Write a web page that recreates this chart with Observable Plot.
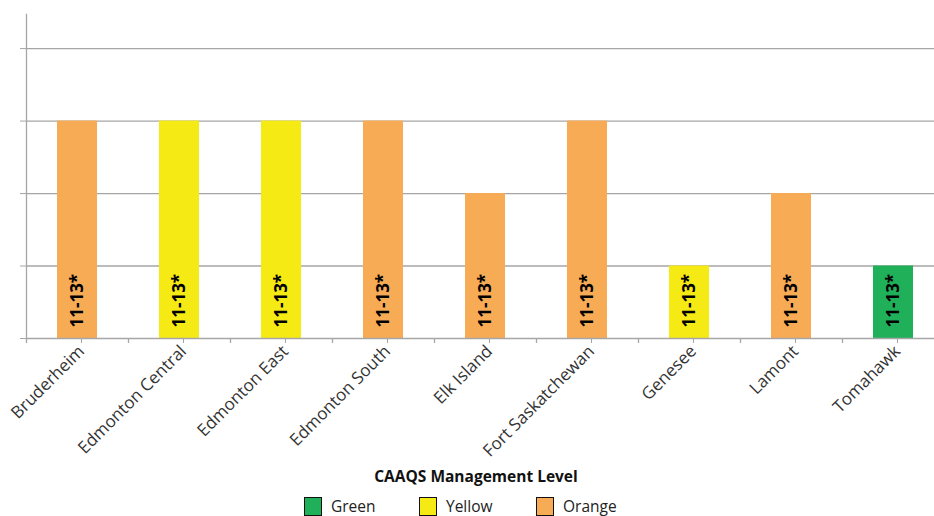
<!DOCTYPE html>
<html>
<head>
<meta charset="utf-8">
<script src="https://cdn.jsdelivr.net/npm/d3@7"></script>
<script src="https://cdn.jsdelivr.net/npm/@observablehq/plot@0.6"></script>
<style>
  html, body { margin: 0; padding: 0; background: #fff; }
  body { width: 934px; height: 516px; overflow: hidden; font-family: "Open Sans", sans-serif; position: relative; }
  #legend-title { position: absolute; left: 0; width: 952px; top: 466px; text-align: center; font-weight: bold; font-size: 15.5px; line-height: 20px; color: #111; }
  .item { position: absolute; top: 497px; height: 18px; display: flex; align-items: center; font-size: 15.5px; line-height: 18px; color: #222; }
  .item span { display: block; height: 18px; line-height: 18px; }
  .sw { width: 16px; height: 17px; border: 1.5px solid #111; margin-right: 9px; box-sizing: content-box; }
</style>
</head>
<body>
<div id="chart"></div>
<div id="legend-title">CAAQS Management Level</div>
<div id="legend"></div>
<script>
const stations = ["Bruderheim", "Edmonton Central", "Edmonton East", "Edmonton South", "Elk Island", "Fort Saskatchewan", "Genesee", "Lamont", "Tomahawk"];
const values = [3, 3, 3, 3, 2, 3, 1, 2, 1];
const levels = ["Orange", "Yellow", "Yellow", "Orange", "Orange", "Orange", "Yellow", "Orange", "Green"];
const barLabels = ["11-13*", "11-13*", "11-13*", "11-13*", "11-13*", "11-13*", "11-13*", "11-13*", "11-13*"];
const legendLevels = ["Green", "Yellow", "Orange"];
const levelColors = ["#21B05A", "#F6EA14", "#F7AB55"];
const gridValues = [1, 2, 3, 4];

const data = stations.map((s, i) => ({station: s, value: values[i], level: levels[i], label: barLabels[i]}));

const gray = "#a6a6a6";
const chart = Plot.plot({
  width: 934,
  height: 460,
  marginLeft: 26,
  marginRight: 0,
  marginTop: 14,
  marginBottom: 122,
  style: {fontFamily: "'Open Sans', sans-serif", background: "#fff", overflow: "hidden"},
  x: {domain: stations, range: [26, 944], padding: 0},
  y: {domain: [0, 4.47]},
  color: {type: "ordinal", domain: legendLevels, range: levelColors},
  marks: [
    Plot.ruleY(gridValues, {stroke: gray, strokeWidth: 1.3}),
    Plot.frame({anchor: "left", stroke: gray, strokeWidth: 1.3}),
    Plot.barY(data, {x: "station", y: "value", fill: {value: "level", scale: "color"}, insetLeft: 31, insetRight: 31}),
    Plot.ruleY([0], {stroke: gray, strokeWidth: 1.3}),
    Plot.ruleX(stations, {x: d => d, dx: -51, insetTop: 324, insetBottom: -5, stroke: gray, strokeWidth: 1.3}),
    Plot.text(data, {x: "station", y: () => 0, text: "label", rotate: -90, textAnchor: "start", lineAnchor: "middle", dy: -11, fontWeight: "bold", fontSize: 17, fill: "#000"}),
    Plot.axisY({ticks: [0, 1, 2, 3, 4], tickSize: 6, tickFormat: () => "", stroke: gray, label: null}),
    Plot.axisX({tickSize: 5, tickRotate: -45, tickPadding: 5, dx: 4, fontSize: 17, fill: "#333", stroke: gray, label: null})
  ]
});
document.getElementById("chart").appendChild(chart);

const legend = document.getElementById("legend");
const lefts = [304, 419, 536];
legendLevels.forEach((lv, i) => {
  const item = document.createElement("div");
  item.className = "item";
  item.style.left = lefts[i] + "px";
  const sw = document.createElement("div");
  sw.className = "sw";
  sw.style.background = levelColors[i];
  const t = document.createElement("span");
  t.textContent = lv;
  item.appendChild(sw);
  item.appendChild(t);
  legend.appendChild(item);
});
</script>
</body>
</html>
